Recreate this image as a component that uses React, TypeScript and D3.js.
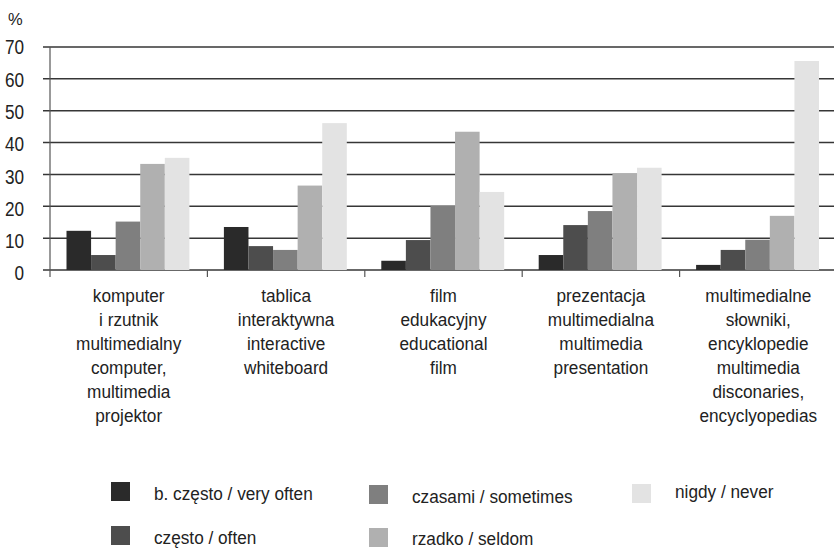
import React from "react";
import * as d3 from "d3";

const categories: string[][] = [
  ["komputer", "i rzutnik", "multimedialny", "computer,", "multimedia", "projektor"],
  ["tablica", "interaktywna", "interactive", "whiteboard"],
  ["film", "edukacyjny", "educational", "film"],
  ["prezentacja", "multimedialna", "multimedia", "presentation"],
  ["multimedialne", "słowniki,", "encyklopedie", "multimedia", "disconaries,", "encyclyopedias"],
];

const seriesNames = [
  "b. często / very often",
  "często / often",
  "czasami / sometimes",
  "rzadko / seldom",
  "nigdy / never",
];

const veryOften = [12.3, 13.5, 2.9, 4.7, 1.6];
const often = [4.7, 7.5, 9.4, 14.1, 6.3];
const sometimes = [15.2, 6.3, 20.1, 18.5, 9.5];
const seldom = [33.3, 26.5, 43.4, 30.4, 17.0];
const never = [35.2, 46.1, 24.5, 32.1, 65.6];

const yTicks = [0, 10, 20, 30, 40, 50, 60, 70];

const seriesValues = [veryOften, often, sometimes, seldom, never];
const colors = ["#2a2a2a", "#4d4d4d", "#7f7f7f", "#b0b0b0", "#e3e3e3"];

const W = 834;
const H = 549;
const left = 50;
const right = 837;
const top = 47;
const bottom = 270;
const font = "'Liberation Sans', Arial, sans-serif";

// legend placement: [x of swatch, y of swatch top, text baseline]
const legendPos = [
  [111, 482, 499.5],
  [111, 526, 544],
  [369, 485, 503],
  [369, 528, 545],
  [632, 484, 498],
];

export default function App() {
  const x0 = d3
    .scaleBand<number>()
    .domain(d3.range(categories.length))
    .range([left, right]);
  const bw = x0.bandwidth();
  const x1 = d3
    .scaleBand<number>()
    .domain(d3.range(seriesNames.length))
    .range([16.5, bw - 18]);
  const y = d3.scaleLinear().domain([0, 70]).range([bottom, top]);

  return (
    <svg
      width={W}
      height={H}
      style={{ position: "absolute", left: 0, top: 0, background: "#fff" }}
      fontFamily={font}
    >
      <text x={8} y={25} fontSize={16.5} fill="#222">%</text>

      {/* gridlines and y tick labels */}
      {yTicks.map((t) => (
        <g key={t}>
          <line
            x1={left - 7}
            x2={right}
            y1={y(t)}
            y2={y(t)}
            stroke="#363636"
            strokeWidth={1.5}
          />
          <text
            x={24}
            y={y(t) + 7.5 + (70 - t) * 0.04}
            fontSize={19.5}
            textAnchor="end"
            fill="#222"
            transform={`translate(24,0) scale(0.88,1) translate(-24,0)`}
          >
            {t}
          </text>
        </g>
      ))}

      {/* bars */}
      {categories.map((_, ci) =>
        seriesValues.map((vals, si) => (
          <rect
            key={`${ci}-${si}`}
            x={(x0(ci) as number) + (x1(si) as number)}
            y={y(vals[ci])}
            width={x1.bandwidth()}
            height={y(0) - y(vals[ci])}
            fill={colors[si]}
          />
        ))
      )}

      {/* y axis */}
      <line x1={left} x2={left} y1={top} y2={bottom + 7} stroke="#555" strokeWidth={1.2} />
      {/* category separators */}
      {d3.range(1, categories.length).map((i) => (
        <line
          key={i}
          x1={x0(i) as number}
          x2={x0(i) as number}
          y1={bottom}
          y2={bottom + 7}
          stroke="#555"
          strokeWidth={1.2}
        />
      ))}

      {/* category labels */}
      {categories.map((lines, ci) => (
        <text
          key={ci}
          fontSize={18.5}
          fill="#222"
          textAnchor="middle"
          transform={`translate(${(x0(ci) as number) + bw / 2},0) scale(0.93,1)`}
        >
          {lines.map((l, li) => (
            <tspan key={li} x={0} y={302.5 + li * 24}>
              {l}
            </tspan>
          ))}
        </text>
      ))}

      {/* legend */}
      {seriesNames.map((name, i) => (
        <g key={name}>
          <rect
            x={legendPos[i][0]}
            y={legendPos[i][1]}
            width={19}
            height={19}
            fill={colors[i]}
          />
          <text
            fontSize={18.5}
            fill="#222"
            transform={`translate(${legendPos[i][0] + 43},${legendPos[i][2]}) scale(0.93,1)`}
          >
            {name}
          </text>
        </g>
      ))}
    </svg>
  );
}
